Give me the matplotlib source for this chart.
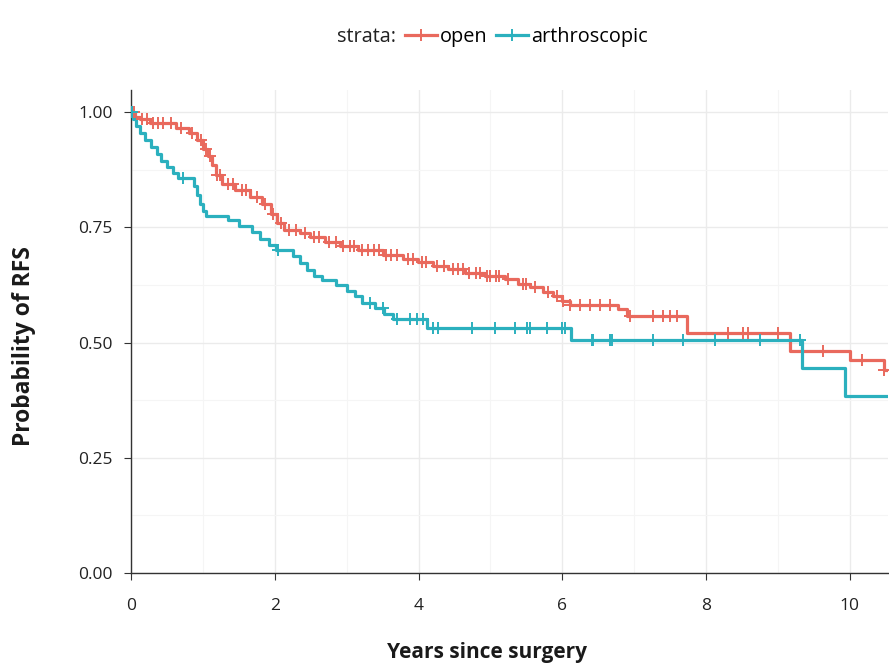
import numpy as np
import matplotlib.pyplot as plt
from matplotlib.lines import Line2D
from matplotlib.ticker import MultipleLocator

plt.rcParams['font.family'] = ['Open Sans', 'DejaVu Sans']

# step changes of the Kaplan-Meier curves (time in years, survival after the step)
open_t = [0.06, 0.13, 0.26, 0.62, 0.8, 0.92, 1.0, 1.07, 1.13, 1.18, 1.27, 1.45, 1.66,
          1.82, 1.95, 2.03, 2.13, 2.35, 2.49, 2.70, 2.91, 3.16, 3.50, 3.78, 3.99, 4.20,
          4.41, 4.65, 4.92, 5.20, 5.38, 5.55, 5.73, 5.87, 5.99, 6.10, 6.78, 6.90, 7.73,
          9.17, 10.0, 10.47]
open_s = [0.99, 0.985, 0.976, 0.966, 0.955, 0.94, 0.92, 0.905, 0.885, 0.863, 0.845, 0.83,
          0.815, 0.80, 0.78, 0.76, 0.745, 0.738, 0.728, 0.718, 0.71, 0.70, 0.69, 0.682,
          0.675, 0.666, 0.66, 0.652, 0.645, 0.638, 0.628, 0.62, 0.61, 0.60, 0.59, 0.582,
          0.572, 0.558, 0.521, 0.482, 0.462, 0.44]
open_cens = [0.04, 0.15, 0.22, 0.3, 0.38, 0.45, 0.55, 0.7, 0.85, 0.97, 1.04, 1.1, 1.2,
             1.24, 1.35, 1.42, 1.55, 1.6, 1.75, 1.86, 1.98, 2.08, 2.2, 2.3, 2.42, 2.55,
             2.62, 2.75, 2.85, 2.95, 3.05, 3.1, 3.22, 3.3, 3.38, 3.45, 3.55, 3.62, 3.7,
             3.85, 3.92, 4.05, 4.1, 4.25, 4.35, 4.48, 4.55, 4.62, 4.7, 4.8, 4.85, 4.95,
             5.0, 5.08, 5.12, 5.25, 5.45, 5.5, 5.62, 5.8, 5.92, 6.01, 6.11, 6.25, 6.38,
             6.52, 6.66, 6.94, 7.26, 7.40, 7.50, 7.59, 8.30, 8.51, 8.58, 9.0, 9.62,
             10.17, 10.47]

arth_t = [0.03, 0.07, 0.12, 0.2, 0.28, 0.36, 0.42, 0.5, 0.58, 0.65, 0.88, 0.92, 0.96,
          1.0, 1.05, 1.35, 1.5, 1.68, 1.8, 1.92, 2.02, 2.25, 2.35, 2.45, 2.55, 2.65,
          2.85, 3.0, 3.12, 3.22, 3.4, 3.52, 3.65, 4.12, 6.12, 9.33, 9.93]
arth_s = [0.985, 0.97, 0.955, 0.94, 0.925, 0.91, 0.895, 0.88, 0.868, 0.857, 0.84, 0.82,
          0.80, 0.785, 0.775, 0.765, 0.752, 0.74, 0.725, 0.712, 0.70, 0.688, 0.672,
          0.658, 0.645, 0.635, 0.625, 0.612, 0.60, 0.585, 0.575, 0.563, 0.552, 0.531,
          0.505, 0.445, 0.385]
arth_cens = [0.02, 0.72, 2.05, 3.32, 3.5, 3.70, 3.88, 3.98, 4.06, 4.20, 4.27, 4.74, 5.06,
             5.34, 5.51, 5.55, 5.79, 5.99, 6.04, 6.41, 6.43, 6.66, 6.69, 7.26, 7.68,
             8.12, 8.75, 9.30]

x_max = 10.53
red = "#E9695D"
teal = "#2BB0BE"


def step_xy(t, s):
    xs = np.concatenate([[0], t, [x_max]])
    ys = np.concatenate([[1.0], s, [s[-1]]])
    return xs, ys


def surv_at(t, s, q):
    idx = np.searchsorted(t, q, side="right")
    vals = np.concatenate([[1.0], s])
    return vals[idx]


fig = plt.figure(figsize=(8.89, 6.69), dpi=100)
ax = fig.add_axes([131/889, 96/669, 757/889, 483/669])

for t, s, c, col in [(open_t, open_s, open_cens, red), (arth_t, arth_s, arth_cens, teal)]:
    xs, ys = step_xy(np.array(t), np.array(s))
    ax.step(xs, ys, where="post", color=col, lw=2.3, zorder=3)
    cy = surv_at(np.array(t), np.array(s), np.array(c))
    ax.plot(c, cy, ls="none", marker="+", ms=9, mew=1.4, color=col, zorder=4)

ax.set_xlim(0, x_max)
ax.set_ylim(0, 1.048)
ax.xaxis.set_major_locator(MultipleLocator(2))
ax.xaxis.set_minor_locator(MultipleLocator(1))
ax.yaxis.set_major_locator(MultipleLocator(0.25))
ax.yaxis.set_minor_locator(MultipleLocator(0.125))
ax.yaxis.set_major_formatter(lambda v, p: f"{v:.2f}")
ax.grid(which="major", color="#EBEBEB", lw=1.0)
ax.grid(which="minor", color="#F5F5F5", lw=0.8)
ax.set_axisbelow(True)

for side in ["top", "right"]:
    ax.spines[side].set_visible(False)
for side in ["left", "bottom"]:
    ax.spines[side].set_color("#333333")
    ax.spines[side].set_linewidth(1.0)
ax.tick_params(which="major", length=5, color="#333333", labelsize=12.5,
               labelcolor="#222222")
ax.tick_params(axis="y", pad=8)
ax.tick_params(axis="x", pad=13)
ax.tick_params(which="minor", length=0)

ax.set_xlabel("Years since surgery", fontsize=15, fontweight="bold", color="#1a1a1a")
ax.set_ylabel("Probability of RFS", fontsize=16.5, fontweight="bold", color="#1a1a1a")
ax.xaxis.set_label_coords(0.470, -0.1636)
ax.yaxis.set_label_coords(-0.1413, 0.470)
ax.xaxis.label.set_va("center")
ax.yaxis.label.set_va("center")
ax.yaxis.label.set_ha("center")

fig.text(337/889, 1 - 37/669, "strata:", fontsize=14.3, va="center", ha="left",
         color="#222222")
handles = [Line2D([], [], color=red, lw=2.3, marker="+", ms=9, mew=1.4),
           Line2D([], [], color=teal, lw=2.3, marker="+", ms=9, mew=1.4)]
fig.legend(handles, ["open", "arthroscopic"], loc="center left",
           bbox_to_anchor=(405/889, 1 - 37/669), ncol=2, frameon=False,
           fontsize=14.3, handlelength=1.6, handletextpad=0.15, columnspacing=0.45,
           borderpad=0, borderaxespad=0)

fig.savefig("out.png", dpi=100)
